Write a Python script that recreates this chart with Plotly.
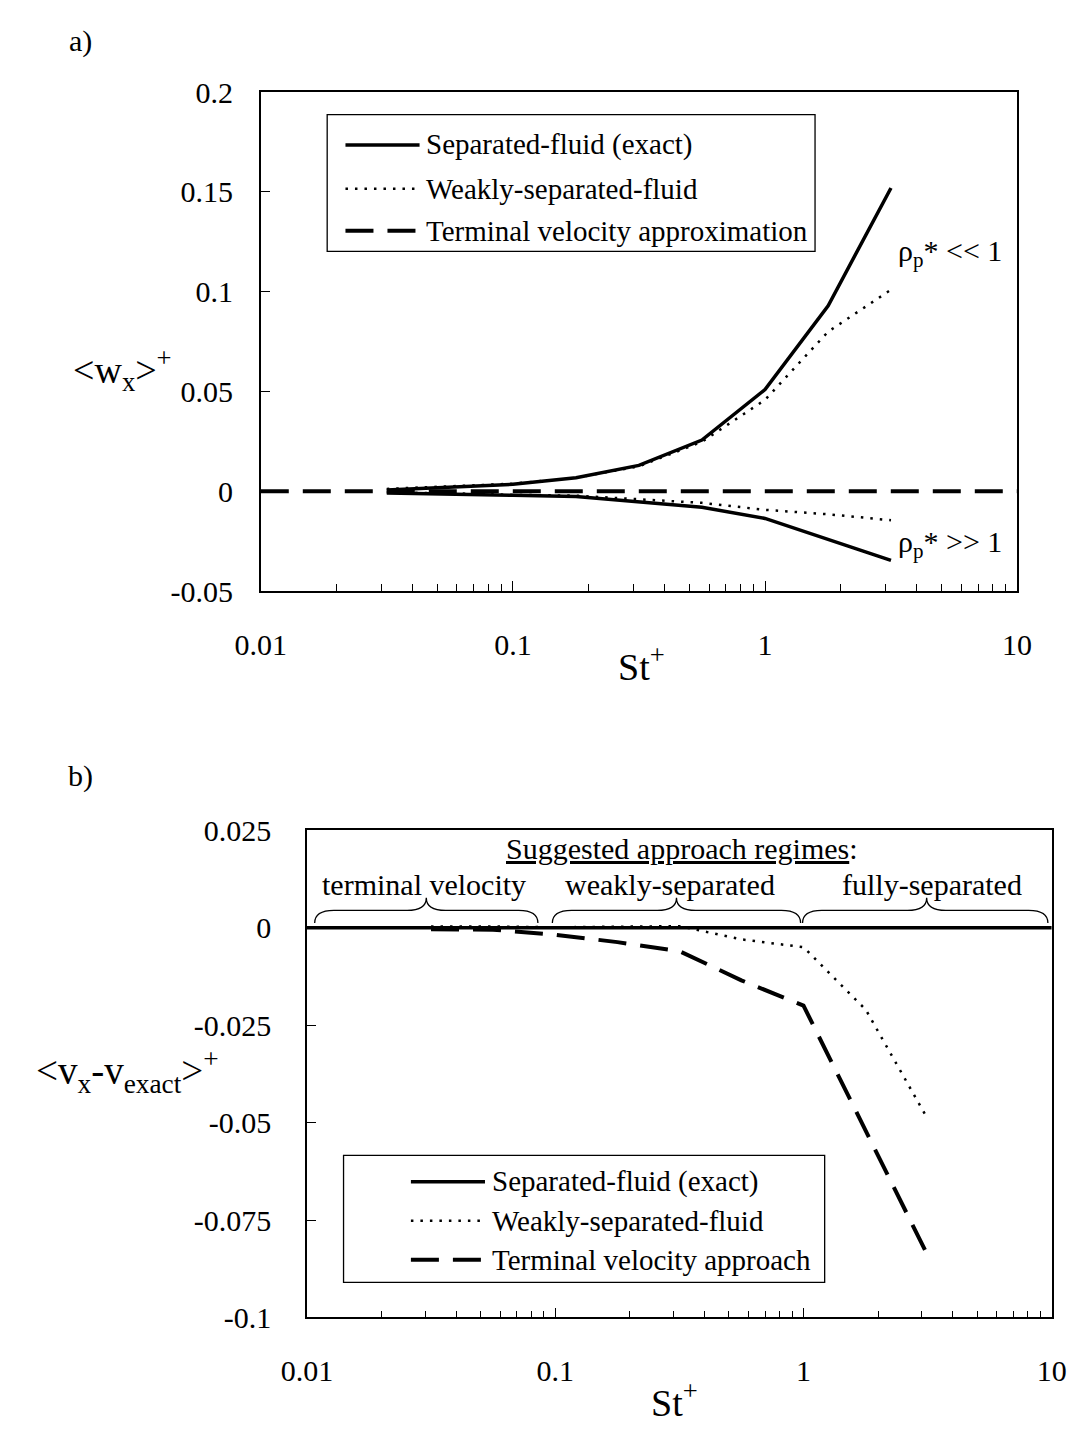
import plotly.graph_objects as go

W, H = 1086, 1435
FONT = "Liberation Serif, Times New Roman, serif"

# ---------------- data ----------------
st = [0.0316, 0.0562, 0.1, 0.178, 0.316, 0.562, 1.0, 1.78, 3.16]
st_span = [0.01, 10]

# panel a) <w_x>+
wx_exact_light = [0.0007, 0.002, 0.0035, 0.0068, 0.013, 0.0257, 0.051, 0.093, 0.152]
wx_weak_light = [0.0012, 0.0026, 0.0038, 0.0068, 0.0125, 0.0248, 0.0458, 0.08, 0.101]
wx_exact_heavy = [-0.0008, -0.0012, -0.002, -0.0026, -0.0052, -0.008, -0.0136, -0.024, -0.0346]
wx_weak_heavy = [-0.0006, -0.001, -0.0018, -0.0022, -0.004, -0.0058, -0.0093, -0.0115, -0.0145]
wx_terminal = [0, 0]

# panel b) <v_x - v_exact>+
err_exact = [0, 0]
err_weak = [0.0003, 0.0003, 0.0001, 0.0002, 0.0004, -0.003, -0.005, -0.021, -0.049]
err_terminal = [-0.0004, -0.0005, -0.0018, -0.0037, -0.006, -0.0135, -0.02, -0.052, -0.084]

x_tickvals = [0.01, 0.1, 1, 10]
x_ticktext = ["0.01", "0.1", "1", "10"]
ya_tickvals = [-0.05, 0, 0.05, 0.1, 0.15, 0.2]
ya_ticktext = ["-0.05", "0", "0.05", "0.1", "0.15", "0.2"]
yb_tickvals = [-0.1, -0.075, -0.05, -0.025, 0, 0.025]
yb_ticktext = ["-0.1", "-0.075", "-0.05", "-0.025", "0", "0.025"]

legend_a = ["Separated-fluid (exact)", "Weakly-separated-fluid", "Terminal velocity approximation"]
legend_b = ["Separated-fluid (exact)", "Weakly-separated-fluid", "Terminal velocity approach"]
regimes = ["terminal velocity", "weakly-separated", "fully-separated"]

# ---------------- styles ----------------
SOLID = dict(color="black", width=3.5)
DOT = dict(color="black", width=2.5, dash="2.5px,7px")
DASH = dict(color="black", width=4, dash="28px,14px")
STYLES = [SOLID, DOT, DASH]


def px(xp):
    return xp / W


def py(yp):
    return 1 - yp / H


fig = go.Figure()

# panel a
fig.add_trace(go.Scatter(x=st, y=wx_exact_light, mode="lines", line=SOLID, xaxis="x", yaxis="y"))
fig.add_trace(go.Scatter(x=st, y=wx_exact_heavy, mode="lines", line=SOLID, xaxis="x", yaxis="y"))
fig.add_trace(go.Scatter(x=st, y=wx_weak_light, mode="lines", line=DOT, xaxis="x", yaxis="y"))
fig.add_trace(go.Scatter(x=st, y=wx_weak_heavy, mode="lines", line=DOT, xaxis="x", yaxis="y"))
fig.add_trace(go.Scatter(x=st_span, y=wx_terminal, mode="lines", line=DASH, xaxis="x", yaxis="y"))

# panel b
fig.add_trace(go.Scatter(x=st_span, y=err_exact, mode="lines", line=SOLID, xaxis="x2", yaxis="y2"))
fig.add_trace(go.Scatter(x=st, y=err_weak, mode="lines", line=DOT, xaxis="x2", yaxis="y2"))
fig.add_trace(go.Scatter(x=st, y=err_terminal, mode="lines", line=DASH, xaxis="x2", yaxis="y2"))


def xaxis_cfg(domain, anchor):
    return dict(
        type="log", range=[-2, 1], domain=domain, anchor=anchor,
        showline=True, mirror=True, linecolor="black", linewidth=1.5,
        ticks="inside", ticklen=10, tickcolor="black", tickwidth=1,
        tickmode="array", tickvals=x_tickvals, ticktext=x_ticktext,
        minor=dict(ticks="inside", ticklen=7, tickcolor="black", dtick="D1", showgrid=False),
        showgrid=False, zeroline=False,
        tickfont=dict(family=FONT, size=30, color="black"),
        ticklabelstandoff=26,
    )


def yaxis_cfg(domain, anchor, rng, vals, text, standoff):
    return dict(
        range=rng, domain=domain, anchor=anchor,
        showline=True, mirror=True, linecolor="black", linewidth=1.5,
        ticks="inside", ticklen=9, tickcolor="black", tickwidth=1,
        tickmode="array", tickvals=vals, ticktext=text,
        showgrid=False, zeroline=False,
        tickfont=dict(family=FONT, size=30, color="black"),
        ticklabelstandoff=standoff,
    )


fig.update_layout(
    width=W, height=H, autosize=False,
    margin=dict(l=0, r=0, t=0, b=0),
    paper_bgcolor="white", plot_bgcolor="white",
    showlegend=False,
    font=dict(family=FONT, size=30, color="black"),
    xaxis=xaxis_cfg([px(244), px(1030)], "y"),
    yaxis=yaxis_cfg([py(588), py(77)], "x", [-0.05, 0.2], ya_tickvals, ya_ticktext, 20),
    xaxis2=xaxis_cfg([px(292), px(1066)], "y2"),
    yaxis2=yaxis_cfg([py(1332), py(833)], "x2", [-0.1, 0.025], yb_tickvals, yb_ticktext, 28),
)

shapes = []
annotations = []


def add_text(text, x, y, size=30, xanchor="center", yanchor="middle"):
    annotations.append(dict(
        text=text, x=px(x), y=py(y), xref="paper", yref="paper",
        xanchor=xanchor, yanchor=yanchor, showarrow=False,
        font=dict(family=FONT, size=size, color="black"),
    ))


def add_legend(box, rows, sx0, sx1, tx, labels):
    x0, y0, x1, y1 = box
    shapes.append(dict(type="rect", xref="paper", yref="paper",
                       x0=px(x0), x1=px(x1), y0=py(y1), y1=py(y0),
                       line=dict(color="black", width=1.3), fillcolor="white"))
    for yy, lab, sty in zip(rows, labels, STYLES):
        shapes.append(dict(type="line", xref="paper", yref="paper",
                           x0=px(sx0), x1=px(sx1), y0=py(yy), y1=py(yy), line=sty))
        add_text(lab, tx, yy, size=29, xanchor="left")


add_legend((313, 100, 820, 240), [131, 176, 219], 332, 409, 414, legend_a)
add_legend((330, 1166, 830, 1296), [1193, 1233, 1273], 400, 477, 482, legend_b)

# panel labels and axis titles
add_text("a)", 57, 25)
add_text("b)", 57, 777)
add_text("St<sup>+</sup>", 640, 663, size=38)
add_text("St<sup>+</sup>", 674, 1417, size=38)
add_text("&lt;w<sub>x</sub>&gt;<sup>+</sup>", 100, 362, size=38)
add_text("&lt;v<sub>x</sub>-v<sub>exact</sub>&gt;<sup>+</sup>", 106, 1080, size=39)

# density-ratio annotations
add_text("ρ<sub>p</sub>* &lt;&lt; 1", 904, 242, xanchor="left")
add_text("ρ<sub>p</sub>* &gt;&gt; 1", 904, 540, xanchor="left")

# regime header
add_text("<u>Suggested approach regimes</u>:", 682, 852)
for lab, cx in zip(regimes, [414, 669, 942]):
    add_text(lab, cx, 889)


def brace(x0, x1, xm, yb=928, ym=915, yt=902, r=20):
    pts = [
        f"M{px(x0)},{py(yb)}",
        f"Q{px(x0)},{py(ym)} {px(x0 + r)},{py(ym)}",
        f"L{px(xm - r)},{py(ym)}",
        f"Q{px(xm)},{py(ym)} {px(xm)},{py(yt)}",
        f"Q{px(xm)},{py(ym)} {px(xm + r)},{py(ym)}",
        f"L{px(x1 - r)},{py(ym)}",
        f"Q{px(x1)},{py(ym)} {px(x1)},{py(yb)}",
    ]
    return dict(type="path", xref="paper", yref="paper", path=" ".join(pts),
                line=dict(color="black", width=1.3))


shapes.append(brace(300, 532, 416))
shapes.append(brace(547, 805, 676))
shapes.append(brace(807, 1062, 936))

fig.update_layout(shapes=shapes, annotations=annotations)

fig.write_html("out.html")
